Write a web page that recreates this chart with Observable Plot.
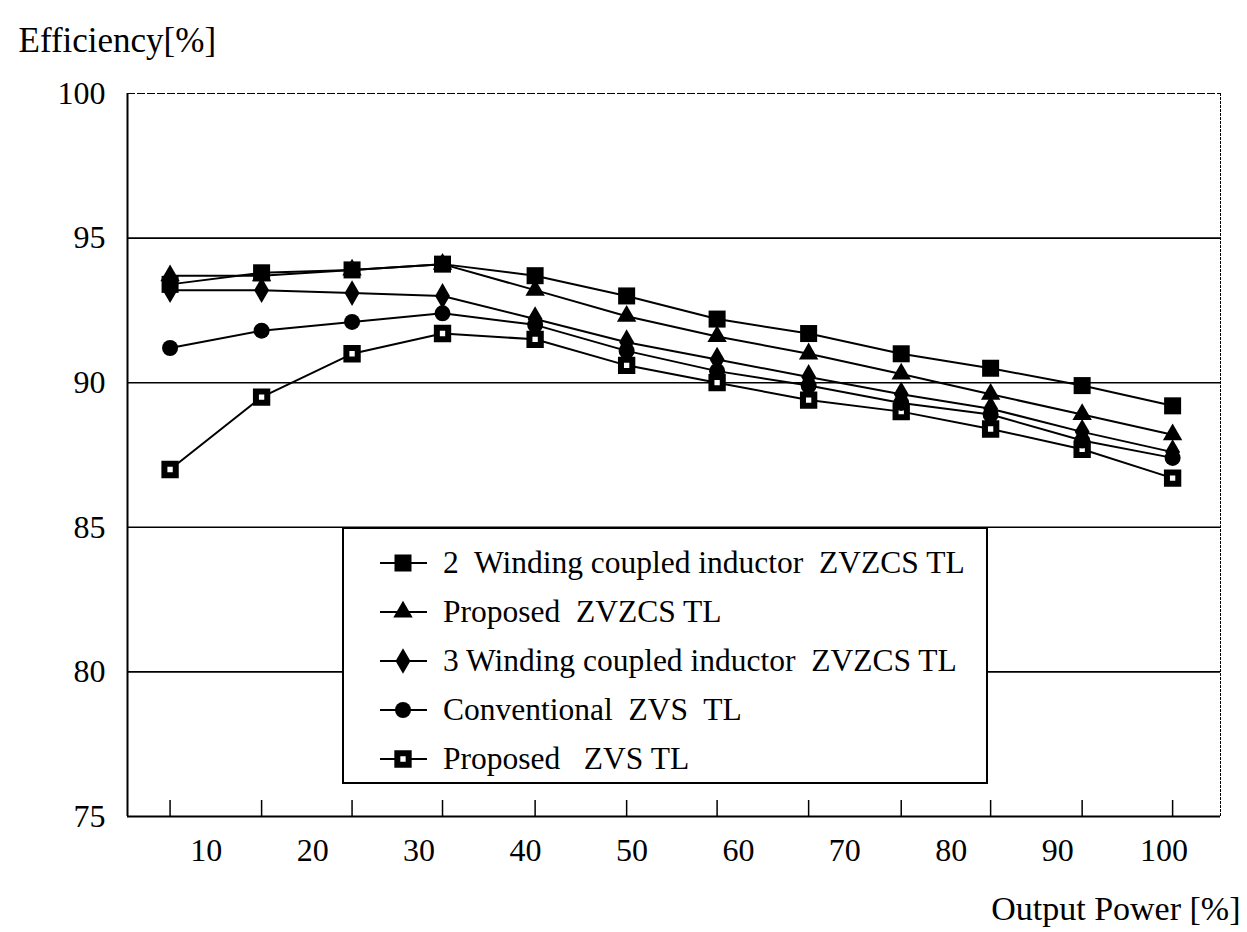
<!DOCTYPE html>
<html><head><meta charset="utf-8">
<script src="https://cdn.jsdelivr.net/npm/d3@7"></script>
<script src="https://cdn.jsdelivr.net/npm/@observablehq/plot@0.6"></script>
<style>html,body{margin:0;padding:0;background:#fff;} #chart svg{display:block;}</style>
</head><body><div id="chart"></div>
<script>
const outputPower = [6.6, 15.2, 23.7, 32.2, 40.9, 49.5, 58.0, 66.6, 75.3, 83.7, 92.3, 100.8];

// Efficiency [%] per series
const twoWindingZVZCS   = [93.4, 93.8, 93.9, 94.1, 93.7, 93.0, 92.2, 91.7, 91.0, 90.5, 89.9, 89.2];
const proposedZVZCS     = [93.7, 93.7, 93.9, 94.1, 93.2, 92.3, 91.6, 91.0, 90.3, 89.6, 88.9, 88.2];
const threeWindingZVZCS = [93.2, 93.2, 93.1, 93.0, 92.2, 91.4, 90.8, 90.2, 89.6, 89.1, 88.3, 87.6];
const conventionalZVS   = [91.2, 91.8, 92.1, 92.4, 92.0, 91.1, 90.4, 89.9, 89.3, 88.9, 88.0, 87.4];
const proposedZVS       = [87.0, 89.5, 91.0, 91.7, 91.5, 90.6, 90.0, 89.4, 89.0, 88.4, 87.7, 86.7];

const seriesNames = [
  "2  Winding coupled inductor  ZVZCS TL",
  "Proposed  ZVZCS TL",
  "3 Winding coupled inductor  ZVZCS TL",
  "Conventional  ZVS  TL",
  "Proposed   ZVS TL"
];
const seriesValues = [twoWindingZVZCS, proposedZVZCS, threeWindingZVZCS, conventionalZVS, proposedZVS];

const yTicks = [75, 80, 85, 90, 95, 100];
const xTickLabels = [10, 20, 30, 40, 50, 60, 70, 80, 90, 100];
const yTitle = "Efficiency[%]";
const xTitle = "Output Power [%]";

// styles (not data)
const symbolStyle = [
  {symbol: "square",   r: 9.6, fill: "black", stroke: "none", sw: 0},
  {symbol: "triangle", r: 7.2, fill: "black", stroke: "none", sw: 0},
  {symbol: "diamond",  r: 7.8, fill: "black", stroke: "none", sw: 0},
  {symbol: "circle",   r: 8,   fill: "black", stroke: "none", sw: 0},
  {symbol: "square",   r: 6.4, fill: "white", stroke: "black", sw: 6}
];

const rows = [];
seriesNames.forEach((name, i) => {
  outputPower.forEach((p, j) => rows.push({series: name, idx: i, power: p, eff: seriesValues[i][j]}));
});

const FONT = "'Liberation Serif', 'DejaVu Serif', serif";
const xDomain = [2.6, 105.3];

const dotMarks = [4, 3, 2, 1, 0].map(i => Plot.dot(rows.filter(d => d.idx === i), {
  x: "power", y: "eff", symbol: () => symbolStyle[i].symbol, r: symbolStyle[i].r,
  fill: symbolStyle[i].fill, stroke: symbolStyle[i].stroke, strokeWidth: symbolStyle[i].sw
}));

const plot = Plot.plot({
  width: 1247, height: 932,
  marginLeft: 127, marginRight: 27, marginTop: 93, marginBottom: 116,
  style: {fontFamily: FONT, background: "white", color: "black"},
  x: {domain: xDomain},
  y: {domain: [75, 100]},
  symbol: {domain: ["square", "triangle", "diamond", "circle"], range: ["square", "triangle", "diamond", "circle"]},
  marks: [
    Plot.ruleY(yTicks.filter(t => t > 75 && t < 100), {stroke: "black", strokeWidth: 1.6}),
    Plot.ruleY([100], {stroke: "black", strokeWidth: 1.2, strokeDasharray: "8,2"}),
    Plot.ruleY([75], {stroke: "black", strokeWidth: 2}),
    Plot.ruleX([xDomain[0]], {stroke: "black", strokeWidth: 2}),
    Plot.ruleX([xDomain[1]], {stroke: "black", strokeWidth: 1, strokeDasharray: "3,1"}),
    Plot.axisY(yTicks, {tickSize: 0, tickPadding: 22, fontSize: 32, label: null}),
    Plot.axisX(outputPower, {tickSize: -16, tickFormat: () => "", label: null, strokeWidth: 1.5}),
    Plot.axisX(xTickLabels, {tickSize: 0, tickPadding: 22, fontSize: 32, label: null}),
    Plot.line(rows, {x: "power", y: "eff", z: "series", stroke: "black", strokeWidth: 2}),
    ...dotMarks,
    Plot.text([yTitle], {text: d => d, frameAnchor: "top-left", dx: -109, dy: -42, textAnchor: "start", lineAnchor: "bottom", fontSize: 35}),
    Plot.text([xTitle], {text: d => d, frameAnchor: "bottom-right", dx: 20, dy: 103, textAnchor: "end", lineAnchor: "bottom", fontSize: 34})
  ]
});

document.getElementById("chart").appendChild(plot);

// legend box drawn inside the plot area
const svg = d3.select(plot);
const lg = svg.append("g").attr("font-family", FONT).attr("text-anchor", "start");
lg.append("rect").attr("x", 343).attr("y", 528).attr("width", 644).attr("height", 255)
  .attr("fill", "white").attr("stroke", "black").attr("stroke-width", 2);
const symMap = {square: d3.symbolSquare, triangle: d3.symbolTriangle, diamond: d3.symbolDiamond, circle: d3.symbolCircle};
seriesNames.forEach((name, i) => {
  const cy = 563 + i * 49;
  lg.append("line").attr("x1", 380).attr("x2", 427).attr("y1", cy).attr("y2", cy)
    .attr("stroke", "black").attr("stroke-width", 2);
  const s = symbolStyle[i];
  lg.append("path").attr("transform", `translate(403,${cy})`)
    .attr("d", d3.symbol(symMap[s.symbol], Math.PI * s.r * s.r)())
    .attr("fill", s.fill).attr("stroke", s.stroke).attr("stroke-width", s.sw);
  lg.append("text").attr("x", 443).attr("y", cy + 10).attr("font-size", 31.5)
    .attr("text-anchor", "start")
    .attr("xml:space", "preserve").style("white-space", "pre").text(name);
});
</script>
</body></html>
